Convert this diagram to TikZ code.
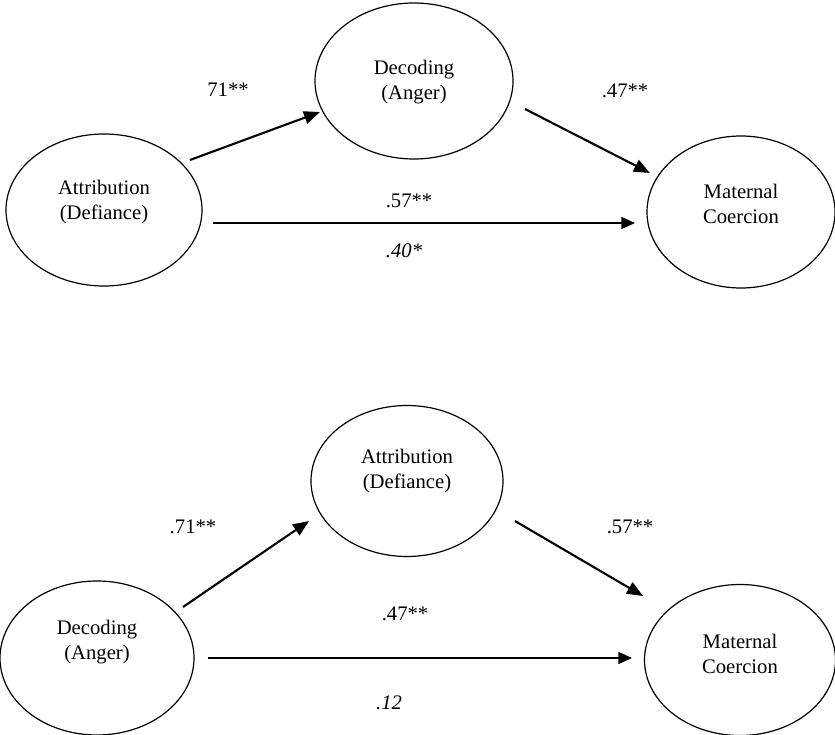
\documentclass[tikz,border=0pt]{standalone}
\usepackage{fontspec}
\setmainfont{Liberation Serif}
\usetikzlibrary{shapes, calc, arrows.meta, positioning}

\tikzset{
  factor/.style={draw, ellipse, line width=0.85pt, inner sep=0pt},
  txt/.style={align=center, inner sep=0pt},
  path/.style={-{Triangle[length=0.4cm, width=0.32cm]}, line width=1.5pt},
  direct/.style={-{Triangle[length=0.34cm, width=0.3cm]}, line width=0.9pt},
  coef/.style={inner sep=0pt}
}

\begin{document}
\begin{tikzpicture}[x=0.025cm, y=-0.025cm, font=\fontsize{14.7}{17.5}\selectfont]
  \useasboundingbox (0,0) rectangle (835,735);

  % latent variables: name / x / y / width / height / text / text raise (px)
  \foreach \N/\X/\Y/\W/\H/\T/\S in {
      attrA/104/210/196/152/{Attribution\\(Defiance)}/8,
      decA/414/81/198/156/{Decoding\\(Anger)}/-1,
      matA/741/212/188/152/{Maternal\\Coercion}/8,
      decB/97/658/194/154/{Decoding\\(Anger)}/16,
      attrB/407/481/192/151/{Attribution\\(Defiance)}/10,
      matB/740/660/191/151/{Maternal\\Coercion}/6
  } {
  \node[factor, minimum width=\W*0.025cm, minimum height=\H*0.025cm,
        label={[txt, yshift=\S*0.025cm]center:{\T}}] (\N) at (\X,\Y) {};
  }

  % upper model
  \draw[path] ($(attrA)+(86,-50)$) -- ($(decA)+(-94,31)$);
  \draw[path] ($(decA)+(111,28)$) -- ($(matA)+(-91,-39)$);
  \draw[direct] ($(attrA)+(109,13)$) -- ($(matA)+(-106,11)$);

  \node[coef] (kA1) at (228,90) {71**};
  \node[coef] (kA2) at (625,91) {.47**};
  \node[coef] (kA3) at (409,201) {.57**};
  \node[coef] (kA4) at (404,251) {\itshape .40*};

  % lower model
  \draw[path] ($(decB)+(86,-51)$) -- ($(attrB)+(-98,40)$);
  \draw[path] ($(attrB)+(108,40)$) -- ($(matB)+(-97,-64)$);
  \draw[direct] ($(decB)+(111,0)$) -- ($(matB)+(-108,-2)$);

  \node[coef] (kB1) at (193,527) {.71**};
  \node[coef] (kB2) at (630,527) {.57**};
  \node[coef] (kB3) at (405,614) {.47**};
  \node[coef] (kB4) at (389,703) {\itshape .12};
\end{tikzpicture}
\end{document}
